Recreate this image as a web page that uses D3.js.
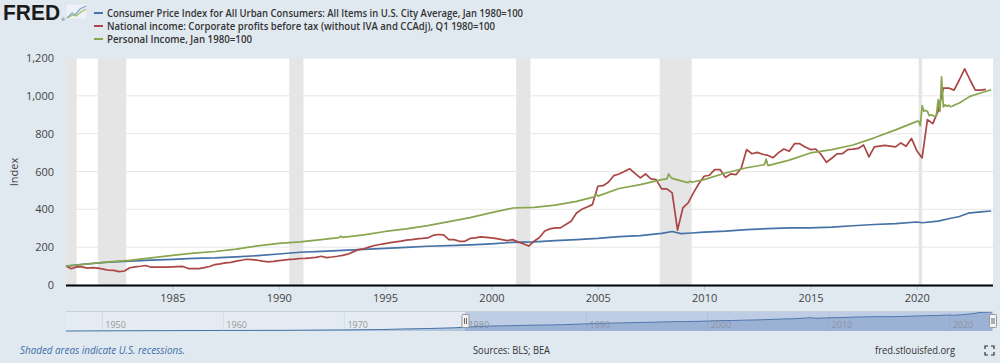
<!DOCTYPE html>
<html><head><meta charset="utf-8">
<script src="https://cdn.jsdelivr.net/npm/d3@7"></script>
<style>body{margin:0;background:#e1e9f0;} svg{display:block;font-family:"Open Sans",sans-serif;}</style>
</head><body><svg id="c" width="1000" height="363"></svg>
<script>
// ---------- DATA ----------
const seriesNames = [
  "Consumer Price Index for All Urban Consumers: All Items in U.S. City Average, Jan 1980=100",
  "National income: Corporate profits before tax (without IVA and CCAdj), Q1 1980=100",
  "Personal Income, Jan 1980=100"
];
const seriesColors = ["#4572a7", "#aa4643", "#89a54e"];

const recessions = [["1980-01","1980-07"],["1981-07","1982-11"],["1990-07","1991-03"],
  ["2001-03","2001-11"],["2007-12","2009-06"],["2020-02","2020-04"]];

const yTicks = [0, 200, 400, 600, 800, 1000, 1200];
const xTickYears = [1985, 1990, 1995, 2000, 2005, 2010, 2015, 2020];
const navTickYears = [1950, 1960, 1970, 1980, 1990, 2000, 2010, 2020];

// CPI (Jan 1980 = 100)
const cpi = [
  ["1980-01",100],["1981-01",112.1],["1982-01",121.3],["1983-01",125.7],["1984-01",131.0],
  ["1985-01",135.6],["1986-01",140.9],["1987-01",142.9],["1988-01",148.5],["1989-01",155.1],
  ["1990-01",163.8],["1991-01",173.0],["1992-01",177.8],["1993-01",183.5],["1994-01",188.0],
  ["1995-01",193.4],["1996-01",198.8],["1997-01",204.9],["1998-01",208.0],["1999-01",211.7],
  ["2000-01",217.6],["2001-01",225.7],["2002-01",228.4],["2003-01",234.7],["2004-01",239.5],
  ["2005-01",246.3],["2006-01",256.2],["2007-01",261.4],["2008-01",272.8],["2008-07",282.8],
  ["2008-12",271.7],["2009-06",275.0],["2010-01",279.6],["2011-01",284.3],["2012-01",292.8],
  ["2013-01",297.8],["2014-01",302.4],["2015-01",301.7],["2016-01",305.5],["2017-01",313.1],
  ["2018-01",319.9],["2019-01",324.7],["2020-01",333.0],["2020-04",329.2],["2021-01",337.4],
  ["2021-07",350.0],["2022-01",362.3],["2022-06",379.6],["2023-01",386.2],["2023-07",391.1]
];
// CPI before 1980, used only by the navigator
const cpiEarly = [
  ["1947-01",27.6],["1950-01",30.2],["1955-01",34.4],["1960-01",37.8],["1965-01",40.2],
  ["1970-01",48.7],["1973-01",54.8],["1975-01",67.0],["1977-01",75.4],["1979-01",88.0]
];

// Corporate profits, quarterly from 1980 Q1 (Q1 1980 = 100)
const profitStartYear = 1980;
const profits = [
  100, 86, 96, 96,   89, 92, 89, 84,   78, 77, 71, 74,   91, 96, 99, 103,
  94, 94, 94, 95,    96, 97, 98, 87,   87, 87, 92, 98,   108, 112, 117, 120,
  126, 131, 136, 134, 131, 126, 122, 125, 129, 132, 135, 137, 140, 141, 143, 146,
  152, 145, 148, 152, 157, 163, 175, 187, 191, 200, 209, 214, 219, 224, 228, 232,
  237, 240, 244, 246, 249, 262, 267, 265, 240, 240, 231, 231, 246, 249, 254, 252,
  249, 245, 240, 235, 240, 228, 218, 206, 231, 250, 284, 297, 302, 302, 320, 337,
  381, 400, 412, 425, 522, 525, 543, 578, 587, 600, 615, 590, 566, 587, 561, 557,
  508, 508, 487, 290, 408, 434, 487, 535, 575, 580, 610, 610, 569, 587, 583, 619,
  716, 694, 701, 691, 685, 673, 700, 719, 707, 747, 747, 730, 716, 719, 690, 649,
  670, 693, 694, 716, 718, 722, 740, 677, 730, 734, 738, 734, 730, 751, 734, 775,
  710, 672, 874, 853, 920, 1041, 1041, 1030, 1085, 1143, 1085, 1030, 1030, 1034
];

// Personal income (Jan 1980 = 100)
const income = [
  ["1980-01",100],["1981-01",111],["1982-01",122],["1983-01",130],["1984-01",143],
  ["1985-01",157],["1986-01",168],["1987-01",177],["1988-01",190],["1989-01",207],
  ["1990-01",220],["1991-01",228],["1992-01",240],["1992-11",250],["1992-12",258],["1993-01",252],
  ["1994-01",265],["1995-01",283],["1996-01",297],["1997-01",314],["1998-01",335],
  ["1999-01",356],["2000-01",383],["2001-01",407],["2002-01",410],["2003-01",422],
  ["2004-01",442],["2004-11",466],["2004-12",483],["2005-01",470],["2006-01",510],
  ["2007-01",531],["2008-01",557],["2008-04",561],["2008-05",587],["2008-06",572],
  ["2008-07",564],["2009-01",548],["2009-04",541],["2009-05",549],["2009-06",543],
  ["2010-01",557],["2011-01",592],["2012-01",620],["2012-11",636],["2012-12",666],
  ["2013-01",631],["2014-01",660],["2015-01",698],["2016-01",716],["2017-01",740],
  ["2018-01",778],["2019-01",820],["2020-01",865],["2020-02",867],["2020-03",842],
  ["2020-04",948],["2020-05",918],["2020-06",923],["2020-07",918],["2020-08",895],
  ["2020-09",900],["2020-10",897],["2020-11",890],["2020-12",895],["2021-01",980],
  ["2021-02",918],["2021-03",1100],["2021-04",941],["2021-05",953],["2021-06",945],
  ["2021-07",950],["2021-08",943],["2021-09",945],["2021-10",950],["2021-11",955],
  ["2021-12",958],["2022-01",962],["2022-07",997],["2023-01",1015],["2023-07",1032]
];

// ---------- DRAW ----------
const parse = d3.timeParse("%Y-%m");
const svg = d3.select("#c");
const L = 66, R = 993, T = 58, B = 285;

const x = d3.scaleTime().domain([parse("1980-01"), parse("2023-08")]).range([L, R]);
const y = d3.scaleLinear().domain([0, 1200]).range([B, T]);

// plot background
svg.append("rect").attr("x", L).attr("y", T).attr("width", R - L).attr("height", B - T).attr("fill", "#fff");

// recessions
svg.append("g").selectAll("rect").data(recessions).join("rect")
  .attr("x", d => x(parse(d[0])))
  .attr("width", d => x(parse(d[1])) - x(parse(d[0])))
  .attr("y", T).attr("height", B - T).attr("fill", "#e5e5e5");

// grid
svg.append("g").selectAll("line").data(yTicks.filter(v => v > 0)).join("line")
  .attr("x1", L).attr("x2", R).attr("y1", d => y(d)).attr("y2", d => y(d))
  .attr("stroke", "#e6e6e6").attr("stroke-width", 1);

// y axis labels
const yAxis = d3.axisLeft(y).tickValues(yTicks).tickSize(0).tickPadding(0).tickFormat(d3.format(","));
const gy = svg.append("g").attr("transform", `translate(${L - 12},0)`).call(yAxis);
gy.select(".domain").remove();
gy.selectAll("text").attr("font-size", 11).attr("fill", "#444").attr("font-family", "Open Sans, sans-serif");

// y title
svg.append("text").attr("transform", "translate(18,172) rotate(-90)").attr("text-anchor", "middle")
  .attr("font-size", 11).attr("fill", "#444").text("Index");

// x axis
const xAxis = d3.axisBottom(x).tickValues(xTickYears.map(yr => new Date(yr, 0, 1)))
  .tickFormat(d3.timeFormat("%Y")).tickSize(5).tickPadding(4);
const gx = svg.append("g").attr("transform", `translate(0,${B})`).call(xAxis);
gx.select(".domain").remove();
gx.selectAll(".tick line").attr("stroke", "#c0c8d4");
gx.selectAll("text").attr("font-size", 11).attr("fill", "#444").attr("font-family", "Open Sans, sans-serif");

// series
const toPts = arr => arr.map(d => ({date: parse(d[0]), value: d[1]}));
const profitPts = profits.map((v, i) => ({date: new Date(profitStartYear, i * 3, 1), value: v}));
const allSeries = [toPts(cpi), profitPts, toPts(income)];
const line = d3.line().x(d => x(d.date)).y(d => y(d.value));
allSeries.forEach((s, i) => {
  svg.append("path").datum(s).attr("d", line).attr("fill", "none")
    .attr("stroke", seriesColors[i]).attr("stroke-width", 1.7).attr("stroke-linejoin", "round");
});

// axis baseline
svg.append("line").attr("x1", L).attr("x2", R).attr("y1", B + 0.5).attr("y2", B + 0.5)
  .attr("stroke", "#000").attr("stroke-width", 2);

// ---------- header ----------
svg.append("text").attr("x", 3).attr("y", 20).attr("font-family", "Liberation Sans, Arial, sans-serif")
  .attr("font-weight", 900).attr("font-size", 22).attr("fill", "#1b1b1b")
  .attr("textLength", 57).attr("lengthAdjust", "spacingAndGlyphs").text("FRED");
svg.append("text").attr("x", 61.5).attr("y", 21).attr("font-size", 4).attr("fill", "#333").text("®");
const icon = svg.append("g").attr("transform", "translate(66,4)");
icon.append("rect").attr("width", 21).attr("height", 15).attr("fill", "#eef2f6").attr("stroke", "#d5dde6").attr("stroke-width", 0.5);
icon.append("polyline").attr("points", "1,14 6,9 9,11 14,5 20,2").attr("fill", "none").attr("stroke", "#7fa3d3").attr("stroke-width", 1.2);
icon.append("polyline").attr("points", "1,14 7,11 10,12 15,8 20,5").attr("fill", "none").attr("stroke", "#9dc06a").attr("stroke-width", 1.2);

const legendW = [416, 388, 145];
seriesNames.forEach((name, i) => {
  const yy = 13 + i * 13;
  svg.append("line").attr("x1", 94).attr("x2", 103).attr("y1", yy).attr("y2", yy)
    .attr("stroke", seriesColors[i]).attr("stroke-width", 2);
  svg.append("text").attr("x", 107).attr("y", yy + 4).attr("font-size", 11).attr("font-weight", 600)
    .attr("fill", "#333").attr("textLength", legendW[i]).attr("lengthAdjust", "spacingAndGlyphs").text(name);
});

// ---------- navigator ----------
const NT = 311, NB = 331;
const nx = d3.scaleTime().domain([parse("1947-01"), parse("2023-08")]).range([L, R]);
const navData = toPts(cpiEarly.concat(cpi));
const ny = d3.scaleLinear().domain(d3.extent(navData, d => d.value)).range([NB, NT + 1]);
svg.append("rect").attr("x", L).attr("y", NT).attr("width", R - L).attr("height", NB - NT).attr("fill", "#e4ebf2");
svg.append("g").selectAll("line").data(navTickYears).join("line")
  .attr("x1", d => nx(new Date(d, 0, 1))).attr("x2", d => nx(new Date(d, 0, 1)))
  .attr("y1", NT).attr("y2", NB).attr("stroke", "#d5dde6");
svg.append("path").datum(navData)
  .attr("d", d3.area().x(d => nx(d.date)).y0(NB).y1(d => ny(d.value)))
  .attr("fill", "rgba(69,114,167,0.3)");
svg.append("path").datum(navData)
  .attr("d", d3.line().x(d => nx(d.date)).y(d => ny(d.value)))
  .attr("fill", "none").attr("stroke", "#4572a7").attr("stroke-width", 1);
svg.append("g").selectAll("text").data(navTickYears).join("text")
  .attr("x", d => nx(new Date(d, 0, 1)) + 3).attr("y", 328).attr("font-size", 9).attr("fill", "#999")
  .text(d => d);
const selX0 = nx(parse("1980-01")), selX1 = R;
svg.append("rect").attr("x", selX0).attr("y", NT).attr("width", selX1 - selX0).attr("height", NB - NT)
  .attr("fill", "rgba(102,133,194,0.3)");
svg.append("line").attr("x1", L).attr("x2", R).attr("y1", NT + 0.5).attr("y2", NT + 0.5).attr("stroke", "#c8d0da");
[selX0, selX1].forEach(hx => {
  const g = svg.append("g").attr("transform", `translate(${hx},0)`);
  g.append("rect").attr("x", -3.5).attr("y", 314.5).attr("width", 7).attr("height", 13)
    .attr("fill", "#f4f4f4").attr("stroke", "#999").attr("rx", 1);
  g.append("line").attr("x1", -1).attr("x2", -1).attr("y1", 318).attr("y2", 324).attr("stroke", "#666");
  g.append("line").attr("x1", 1).attr("x2", 1).attr("y1", 318).attr("y2", 324).attr("stroke", "#666");
});

// ---------- footer ----------
svg.append("text").attr("x", 20).attr("y", 354).attr("font-size", 10).attr("font-style", "italic")
  .attr("fill", "#3d6ea8").attr("textLength", 165).attr("lengthAdjust", "spacingAndGlyphs")
  .text("Shaded areas indicate U.S. recessions.");
svg.append("text").attr("x", 473).attr("y", 354).attr("font-size", 10).attr("fill", "#333")
  .attr("textLength", 77).attr("lengthAdjust", "spacingAndGlyphs").text("Sources: BLS; BEA");
svg.append("text").attr("x", 875).attr("y", 354).attr("font-size", 10).attr("fill", "#333")
  .attr("textLength", 80).attr("lengthAdjust", "spacingAndGlyphs").text("fred.stlouisfed.org");
const fs = svg.append("g").attr("transform", "translate(985,346)").attr("stroke", "#333").attr("stroke-width", 1.2).attr("fill", "none");
fs.append("path").attr("d", "M0,3 V0 H3 M6,0 H9 V3 M9,6 V9 H6 M3,9 H0 V6");
</script></body></html>
